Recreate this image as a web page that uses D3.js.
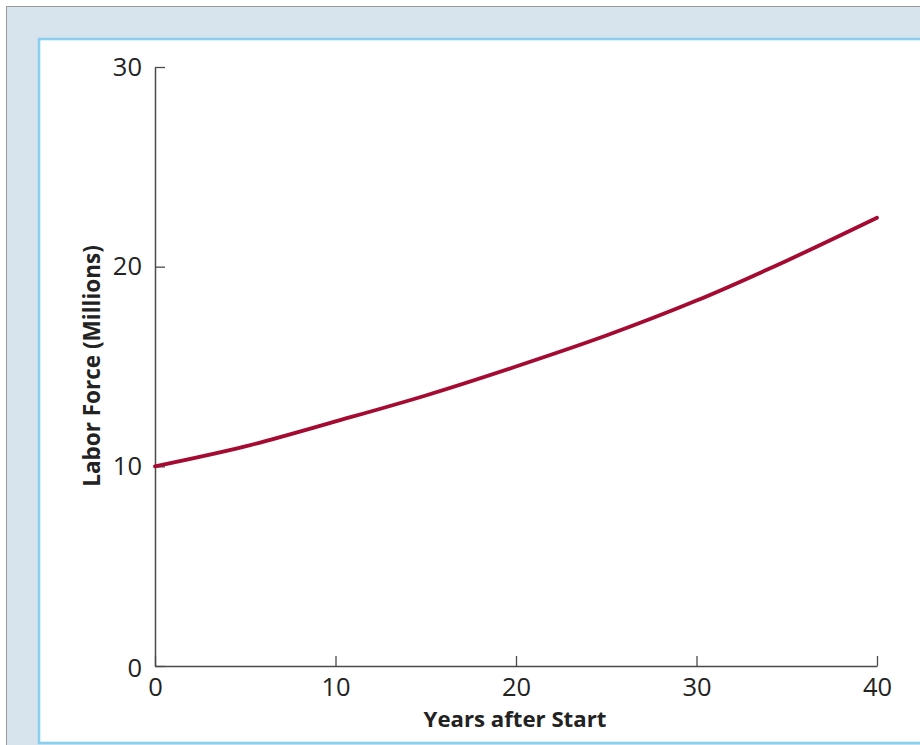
<!DOCTYPE html>
<html>
<head>
<meta charset="utf-8">
<script src="https://cdn.jsdelivr.net/npm/d3@7"></script>
<style>
  html, body { margin: 0; padding: 0; background: #ffffff; }
  svg { display: block; }
</style>
</head>
<body>
<svg id="chart" width="920" height="745"></svg>
<script>
// Data
const years = [0, 5, 10, 15, 20, 25, 30, 35, 40];
const laborForce = [10.0, 11.0, 12.25, 13.55, 15.0, 16.55, 18.3, 20.3, 22.45];
const xTicks = [0, 10, 20, 30, 40];
const yTicks = [0, 10, 20, 30];
const xTitle = "Years after Start";
const yTitle = "Labor Force (Millions)";

const svg = d3.select("#chart");

// Frame
svg.append("rect").attr("x", 6.5).attr("y", 6.5).attr("width", 940).attr("height", 760)
  .attr("fill", "#d8e4ed").attr("stroke", "#9a9a9a").attr("stroke-width", 1);
svg.append("rect").attr("x", 39).attr("y", 39).attr("width", 900).attr("height", 704)
  .attr("fill", "#ffffff").attr("stroke", "#8ad0ee").attr("stroke-width", 2.6);

const x = d3.scaleLinear().domain([0, 40]).range([155, 877]);
const y = d3.scaleLinear().domain([0, 30]).range([666, 67]);

const tickFont = "'Open Sans', sans-serif";
const titleFont = "'Open Sans', sans-serif";

// X axis
const xAxis = d3.axisBottom(x).tickValues(xTicks).tickSize(-10).tickSizeOuter(0).tickPadding(0);
const gx = svg.append("g").attr("transform", `translate(0,${y(0)})`).call(xAxis);
gx.select(".domain").attr("stroke", "#4a4a4a").attr("stroke-width", 1.5);
gx.selectAll(".tick line").attr("stroke", "#4a4a4a").attr("stroke-width", 1.3);
gx.selectAll(".tick text").attr("dy", null).attr("y", 30)
  .attr("font-family", tickFont).attr("font-size", 25.5).attr("fill", "#222");

// Y axis
const yAxis = d3.axisLeft(y).tickValues(yTicks).tickSize(-10).tickSizeOuter(0).tickPadding(13);
const gy = svg.append("g").attr("transform", `translate(${x(0)},0)`).call(yAxis);
gy.select(".domain").attr("stroke", "#4a4a4a").attr("stroke-width", 1.5);
gy.selectAll(".tick line").attr("stroke", "#4a4a4a").attr("stroke-width", 1.3);
gy.selectAll(".tick text").attr("font-family", tickFont).attr("font-size", 25.5).attr("fill", "#222");
gy.selectAll(".tick").filter(d => d === 0).select("text").attr("dy", "0.42em");

// Titles
svg.append("text").attr("x", 515).attr("y", 727).attr("text-anchor", "middle")
  .attr("font-family", titleFont).attr("font-weight", "bold").attr("font-size", 22.2).attr("fill", "#222")
  .text(xTitle);
svg.append("text").attr("transform", "translate(100,366) rotate(-90)").attr("text-anchor", "middle")
  .attr("font-family", titleFont).attr("font-weight", "bold").attr("font-size", 22.5).attr("fill", "#222")
  .text(yTitle);

// Line
const data = years.map((t, i) => ({ t, v: laborForce[i] }));
const line = d3.line().x(d => x(d.t)).y(d => y(d.v)).curve(d3.curveMonotoneX);
svg.append("path").datum(data).attr("d", line).attr("fill", "none")
  .attr("stroke", "#a50b32").attr("stroke-width", 3.8).attr("stroke-linecap", "round");
</script>
</body>
</html>
